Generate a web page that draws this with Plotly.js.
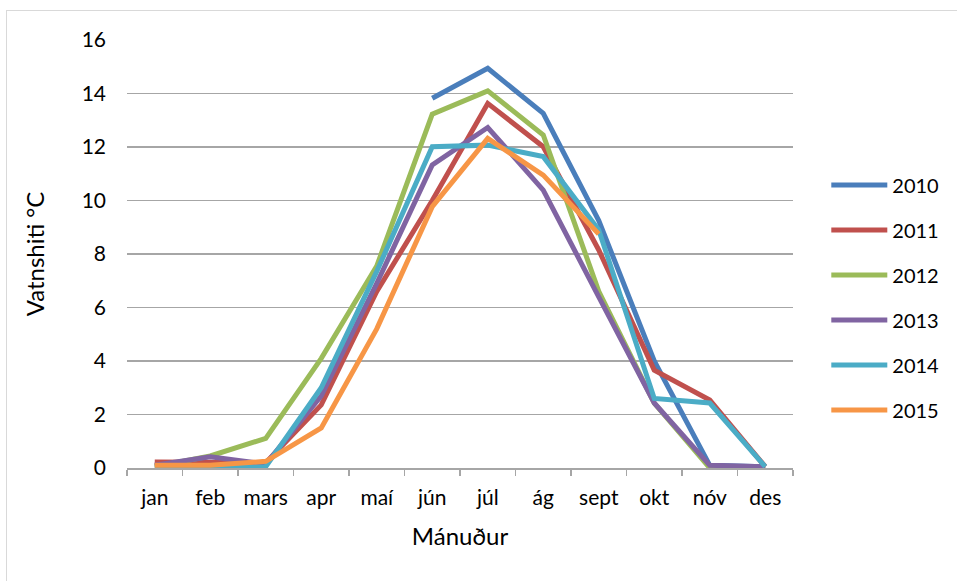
<!DOCTYPE html>
<html>
<head>
<meta charset="utf-8">
<script src="https://cdn.plot.ly/plotly-3.0.1.min.js"></script>
<style>
  html, body { margin: 0; padding: 0; background: #fff; }
  #wrap { position: relative; width: 957px; height: 581px; overflow: hidden; }
  #chart { position: absolute; left: 0; top: 0; width: 957px; height: 581px; }
  #frame { position: absolute; left: 6px; top: 10px; width: 1000px; height: 700px;
           border-left: 1.5px solid #d9d9d9; border-top: 1.5px solid #d9d9d9; pointer-events: none; }
</style>
</head>
<body>
<div id="wrap">
  <div id="chart"></div>
  <div id="frame"></div>
</div>
<script>
const months = ['jan','feb','mars','apr','maí','jún','júl','ág','sept','okt','nóv','des'];
const years = ['2010','2011','2012','2013','2014','2015'];
const colors = ['#4A7EBB','#C0504D','#9BBB59','#8064A2','#4BACC6','#F79646'];

const y2010 = [null, null, null, null, null, 13.82, 14.94, 13.26, 9.25, 4.0, 0.1, 0.05];
const y2011 = [0.22, 0.2, 0.2, 2.36, 6.6, 10.0, 13.63, 12.01, 8.15, 3.66, 2.54, 0.05];
const y2012 = [0.05, 0.45, 1.11, 4.1, 7.55, 13.23, 14.1, 12.45, 6.6, 2.43, 0.0, 0.0];
const y2013 = [0.1, 0.42, 0.15, 2.7, 6.9, 11.33, 12.73, 10.39, 6.4, 2.43, 0.1, 0.05];
const y2014 = [0.0, 0.0, 0.05, 3.0, 7.35, 12.01, 12.07, 11.64, 8.9, 2.6, 2.43, 0.05];
const y2015 = [0.1, 0.1, 0.25, 1.5, 5.2, 9.77, 12.32, 10.95, 8.75, null, null, null];

const series = [y2010, y2011, y2012, y2013, y2014, y2015];
const FONT = 'Lato, "Open Sans", sans-serif';

const traces = series.map((vals, i) => ({
  type: 'scatter',
  mode: 'lines',
  x: months,
  y: vals,
  name: years[i],
  legendgroup: years[i],
  line: { color: colors[i], width: 5 },
  connectgaps: false,
  hoverinfo: 'x+y+name'
}));

const layout = {
  width: 957,
  height: 581,
  paper_bgcolor: '#ffffff',
  plot_bgcolor: '#ffffff',
  margin: { l: 127, r: 164, t: 40, b: 113 },
  font: { family: FONT, size: 20, color: '#000000' },
  showlegend: true,
  legend: {
    x: 1.05, xanchor: 'left',
    y: 0.707, yanchor: 'top',
    font: { family: FONT, size: 20, color: '#000' },
    tracegroupgap: 16,
    itemwidth: 56,
    bgcolor: 'rgba(0,0,0,0)'
  },
  xaxis: {
    type: 'category',
    categoryorder: 'array',
    categoryarray: months,
    range: [-0.5, 11.5],
    showgrid: false,
    zeroline: false,
    showline: true,
    linecolor: '#a6a6a6',
    linewidth: 1.5,
    ticks: 'outside',
    tickson: 'boundaries',
    ticklen: 6,
    tickcolor: '#a6a6a6',
    tickwidth: 1.5,
    ticklabelstandoff: 10,
    tickfont: { family: FONT, size: 21, color: '#000' },
    title: { text: 'Mánuður', font: { family: FONT, size: 24, color: '#000' }, standoff: 20 }
  },
  yaxis: {
    range: [0, 16],
    dtick: 2,
    tick0: 0,
    showgrid: true,
    gridcolor: '#a6a6a6',
    gridwidth: 1.5,
    zeroline: false,
    showline: false,
    ticks: '',
    ticklabelstandoff: 20,
    tickfont: { family: FONT, size: 21, color: '#000' },
    title: { text: 'Vatnshiti °C', font: { family: FONT, size: 24, color: '#000' }, standoff: 30 }
  }
};

Plotly.newPlot('chart', traces, layout, { displayModeBar: false, staticPlot: true });
</script>
</body>
</html>
